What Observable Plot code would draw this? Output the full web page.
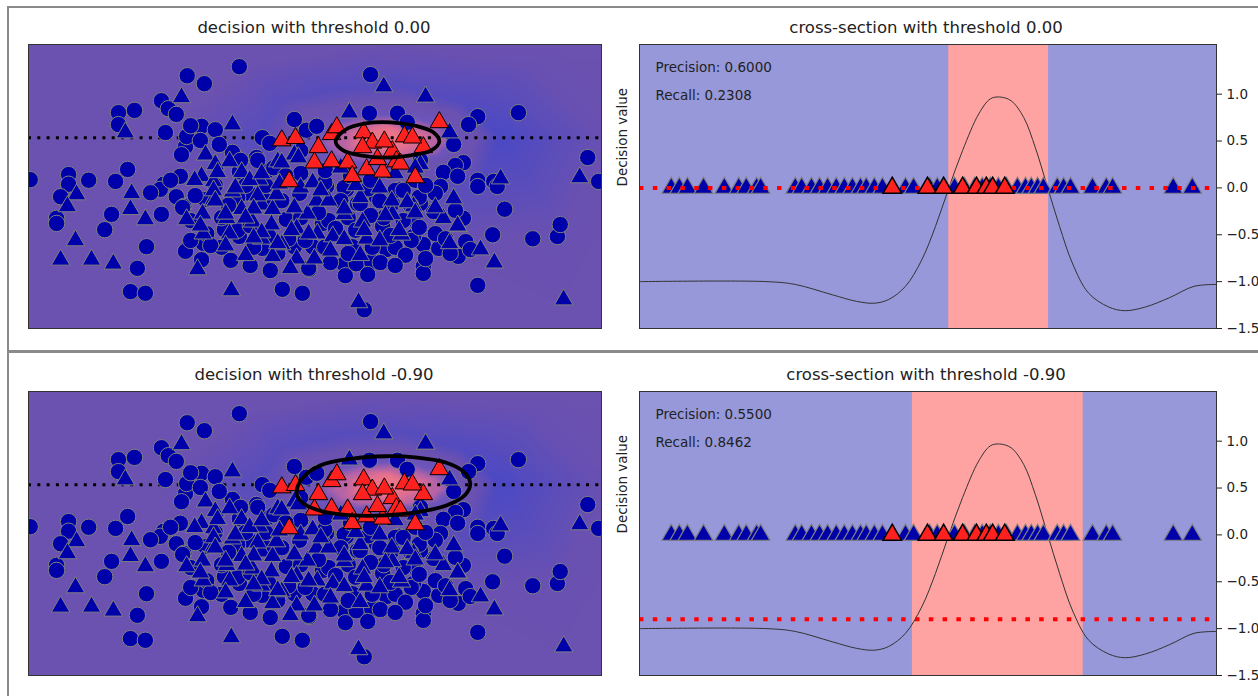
<!DOCTYPE html>
<html>
<head>
<meta charset="utf-8">
<script src="https://cdn.jsdelivr.net/npm/d3@7"></script>
<script src="https://cdn.jsdelivr.net/npm/@observablehq/plot@0.6"></script>
<style>
  body { margin: 0; background: #fff; width: 1258px; height: 696px; overflow: hidden; position: relative; font-family: "DejaVu Sans", sans-serif; }
  .line { position: absolute; background: #8a8a8a; }
  .title { position: absolute; font-size: 16.5px; color: #222; white-space: nowrap; transform: translate(-50%, -50%); }
  .panel { position: absolute; }
</style>
</head>
<body>
<script>
// ---- figure data -------------------------------------------------------
const thresholds = [0, -0.9];
const precisions = [0.6, 0.55];
const recalls = [0.2308, 0.8462];
const bandLo = [53.6, 47.3];   // cross-section: start of region above threshold
const bandHi = [70.9, 76.9];   // cross-section: end of region above threshold
const cutLine = 33.6;          // feature 1 value where the cross-section is taken

// class 0 samples (circles), feature 0 / feature 1
const circles = [
  [36.8,46.1],[27.7,44.5],[30.7,43.1],[59.7,44.7],[23.2,40.1],[24.4,38.7],[25.8,37.7],[15.7,38.0],[18.5,38.4],[15.7,35.9],
  [23.9,34.5],[30.2,35.6],[32.6,35.0],[27.4,32.0],[26.7,30.6],[27.6,33.8],[46.4,36.8],[48.5,34.9],[50.3,35.6],[59.5,37.9],
  [64.4,37.9],[66.1,36.3],[78.4,37.3],[76.8,35.9],[85.5,38.0],[74.2,32.4],[97.6,30.1],[99.5,25.9],[0.3,26.2],[7.0,27.1],
  [7.0,25.4],[10.5,26.1],[17.3,28.0],[15.2,25.9],[23.6,25.4],[26.5,26.8],[40.8,33.6],[35.6,31.0],[39.8,30.1],[33.3,32.4],
  [36.8,27.6],[41.5,27.6],[75.9,29.2],[74.5,28.7],[72.4,27.5],[74.9,26.8],[78.4,26.1],[81.2,25.9],
  [5.6,23.2],[4.9,19.4],[4.9,18.5],[14.5,20.1],[13.3,17.4],[20.6,14.4],[19.0,10.6],[17.8,6.5],[20.4,6.2],[23.2,20.1],
  [23.0,24.5],[25.8,23.2],[27.1,21.5],[27.4,13.6],[30.2,12.1],[30.5,15.0],[30.9,22.7],[21.3,23.9],
  [49.0,10.4],[44.3,6.9],[47.8,6.2],[55.1,11.3],[57.2,11.4],[59.9,11.8],[59.2,9.5],[58.6,3.3],[56.5,14.4],[62.5,13.9],
  [60.7,23.2],[63.5,22.0],[64.7,24.5],[57.4,22.0],[36.8,16.2],[40.8,14.1],[46.4,14.4],[49.6,14.4],[34.2,17.4],[52.0,25.0],
  [55.5,24.5],[38.6,23.8],[47.3,23.8],[61.8,18.0],[51.3,18.5],[45.0,19.2],
  [83.1,21.0],[81.0,16.5],[88.0,15.8],[92.3,16.2],[92.8,18.3],[78.4,7.6],[68.9,10.9],[68.9,9.7],[70.7,20.6],[68.4,22.0],
  [75.9,19.4],[68.9,14.8],[67.2,16.2],[71.6,14.1],[75.0,12.7],[76.3,15.3],[77.1,13.9],[73.6,13.2],[67.2,19.2],[71.9,25.0],
  [78.4,25.0],[81.8,25.0],
  [42.1,32.6],[40.0,29.6],[42.8,28.3],[47.5,27.3],[51.7,25.7],[55.1,24.8],[59.3,24.6],[61.3,22.5],[64.0,24.3],[65.4,24.3],
  [68.2,23.1],[71.0,23.8],[57.9,22.0],[55.8,19.5],[52.4,19.0],[47.5,19.5],[44.2,22.5],[36.5,23.1],[33.7,19.5],[36.5,17.3],
  [31.1,16.7],[28.3,15.5],[33.7,14.3],[39.3,14.3],[43.5,13.2],[51.7,14.3],[55.8,13.2],[60.0,14.3],[64.0,14.3],[66.8,15.5],
  [65.4,19.0],[62.0,19.5],[68.2,17.8],[71.0,16.7],[26.9,21.3],[24.8,26.1],[48.9,10.6],
  [47.5,31.3],[68.4,29.6],[37.9,25.2],[41.4,22.5],[54.5,22.5],[67.5,26.1],
  [32.6,25.2],[34.9,21.7],[38.7,18.1],[41.9,16.3],[45.4,15.8],[48.3,15.5],[50.6,20.4],[53.6,17.6],[57.1,17.3],[59.7,19.9],
  [63.2,16.4],[65.8,12.9],[69.3,12.3],[72.8,15.8],[74.5,20.8],[29.1,23.4],[28.3,19.0],[31.8,14.6],[35.3,12.0],[38.7,11.1],
  [42.2,10.2],[52.7,11.6],[55.3,9.3],[61.4,11.6],[64.0,11.1],[66.7,21.7],[69.3,25.2],[59.7,26.1],[56.2,26.9],[51.8,27.8],
  [44.9,26.9],[41.4,25.2],[37.0,29.6],[30.0,33.1],[28.3,35.7]
];

// class 1 samples predicted negative (blue triangles)
const blueTriangles = [
  [62.0,42.6],[69.3,40.8],[26.7,40.7],[16.9,34.5],[35.6,35.9],[56.0,38.0],[73.5,34.5],[82.4,26.4],[96.2,26.6],[8.4,23.6],
  [6.8,21.5],[8.2,15.5],[5.6,12.1],[11.0,12.1],[14.8,11.4],[29.5,10.4],[35.4,6.7],[57.6,4.6],[93.4,5.1],[81.3,11.6],
  [78.9,13.9],[74.2,22.9],[75.0,18.0],[73.5,15.0],[18.0,23.8],[17.8,21.0],[20.4,19.2],[27.6,19.2],[30.5,16.7],[32.3,22.7],
  [30.9,30.6],[30.2,26.8],[32.3,25.9],[32.6,28.9],[35.1,29.4],[37.2,27.5],[43.5,29.4],[46.4,30.6],[40.3,26.2],[68.4,28.9],
  [72.4,19.4],[74.9,18.1],[67.2,21.5],[37.2,21.0],[40.7,21.8],[42.6,21.0],[39.1,18.8],[34.6,19.4],[42.4,18.3],[46.8,17.6],
  [48.7,20.2],[50.4,16.7],[44.2,14.8],[40.7,15.8],[42.6,12.7],[46.8,12.3],[49.9,12.3],[55.1,20.1],[53.1,16.2],[55.1,15.7],
  [58.3,18.8],[59.0,15.8],[63.5,20.1],[65.1,16.5],[35.6,24.1],[43.3,23.6],[33.0,27.5],[29.0,26.1],[32.3,24.3],[36.1,24.8],
  [38.6,26.1],[40.7,27.3],[44.2,29.2],[47.1,30.1],[47.5,24.8],[43.8,25.5],[40.0,23.4],[32.6,22.5],[30.4,20.2],[34.4,20.2],
  [39.3,21.1],[46.4,21.3],[50.3,22.5],[52.4,22.5],[55.1,21.1],[57.9,23.1],[61.3,24.8],[63.4,22.5],[66.1,22.2],[67.5,20.4],
  [64.7,17.3],[71.0,21.3],[67.5,28.3],[64.0,27.3],[54.5,28.3],[49.6,25.7],[40.7,16.9],[45.9,17.3],[48.9,16.7],[58.6,17.3],
  [61.3,15.5],[43.5,15.0],[39.3,16.0],[35.1,16.7],[37.9,19.5],
  [34.4,14.6],[37.9,12.9],[45.7,10.6],[52.7,13.7],[57.9,12.9],[62.3,19.9],[57.1,25.2],[30.0,18.1],[51.0,24.3]
];

// class 1 samples (red triangles)
const redTriangles = [
  [44.2,33.1],[46.6,33.5],[50.6,31.9],[52.9,34.2],[53.8,35.4],[49.9,29.2],[52.9,29.4],[55.7,29.2],[56.5,26.8],[58.5,34.5],
  [59.0,28.0],[60.0,32.7],[58.3,31.9],[63.5,31.2],[65.6,33.8],[45.5,25.9],[61.8,27.6],[60.9,29.8],[64.2,29.4],[71.7,36.3],
  [68.9,31.9],[67.5,26.6],[67.0,33.6],[62.1,32.9],[64.9,29.0]
];

// decision-function level set at each threshold
const contour0 = [
  [53.6,32.9],[55.3,35.0],[58.8,36.1],[63.2,36.3],[67.5,35.7],[70.7,34.5],
  [71.7,32.9],[70.2,31.3],[66.7,30.5],[62.3,30.1],[57.9,30.5],[55.0,31.3]
];
const contour09 = [
  [46.8,32.0],[47.8,34.7],[51.0,37.0],[56.5,38.2],[62.3,38.6],[67.5,38.4],[72.8,37.5],[75.9,35.9],
  [77.1,33.8],[76.1,31.7],[72.8,29.9],[67.5,28.7],[62.3,28.2],[56.5,28.2],[51.3,28.9],[48.0,30.3]
];
const contours = [contour0, contour09];

// decision-function samples over the feature plane: [feature0, feature1, value]
const fieldPoints = [
  [0,50,-1],[30,50,-1],[63.2,50,-1],[92.8,50,-1],[100,50,-1],
  [0,33.6,-1],[22.0,33.6,-1],[100,33.6,-1.03],[0,13.7,-1],[100,13.7,-1],
  [0,0,-1],[30,0,-1],[64.9,0,-1],[92.8,0,-1],[100,0,-1],
  [38.7,46.3,-1],[63.2,48.1,-1.02],[87.6,46.3,-1.03],[30.0,26.1,-1.01],[35.3,15.5,-1],[64.1,13.7,-1],[92.8,17.3,-1.02],
  [39.8,33.6,-1.2],[44.0,40.1,-1.18],[54.5,42.3,-1.2],[64.9,42.8,-1.2],[75.4,40.1,-1.24],
  [82.5,33.6,-1.32],[78.9,26.1,-1.2],[64.1,22.5,-1.08],[47.5,24.3,-1.08],
  [58.6,33.5,0.75],[66.7,33.5,0.72],[62.8,35.2,0.72],[62.8,31.7,0.72],[62.8,33.1,0.97]
];
const fieldStops = [-1.35, -1.0, -0.5, 0, 0.5, 1];
const fieldColors = ["#4848c6", "#6b51b0", "#6c55bc", "#b664a6", "#e26f90", "#f27886"];

// decision function along the cross-section line
const curveX = [0, 22.1, 27.0, 33.4, 37.6, 40.7, 43.2, 46.1, 48.9, 51.3, 53.5, 56.0, 58.8, 60.8, 62.4, 64.4,
  66.6, 68.6, 70.7, 72.8, 75.0, 77.8, 81.3, 84.1, 87.7, 91.9, 96.1, 100];
const curveV = [-1.0, -1.0, -1.03, -1.14, -1.21, -1.23, -1.19, -1.05, -0.77, -0.41, -0.02, 0.40, 0.79, 0.95, 0.97, 0.93,
  0.75, 0.43, 0.01, -0.41, -0.80, -1.12, -1.27, -1.31, -1.27, -1.17, -1.05, -1.03];

// samples lying on the cross-section (feature 0)
const crossBlue = [5.5, 6.9, 8.3, 11.1, 14.7, 17.2, 18.5, 20.3, 21.0, 27.0, 28.1, 29.8, 31.2, 32.6, 34.1, 35.5, 36.9,
  38.3, 39.3, 40.7, 42.1, 46.1, 47.5, 50.3, 51.6, 54.6, 56.3, 58.1, 59.4, 60.8, 62.2, 63.6, 65.5, 66.9, 67.9, 69.0,
  70.0, 72.4, 73.5, 74.7, 78.5, 80.9, 82.0, 92.5, 95.8];
const crossRed = [43.8, 49.9, 52.7, 56.0, 58.4, 60.1, 61.2, 63.3];

const yDomain = [-1.5, 1.53];
const yTicks = [-1.5, -1.0, -0.5, 0.0, 0.5, 1.0];

// ---- drawing -----------------------------------------------------------
const field = fieldPoints.map(([x, y, v]) => ({x, y, v}))
  .concat(contour0.map(([x, y]) => ({x, y, v: thresholds[0]})))
  .concat(contour09.map(([x, y]) => ({x, y, v: thresholds[1]})));
const curve = curveX.map((x, k) => ({x, v: curveV[k]}));

const circleR = 8.2, triR = 6.9;

function leftPanel(i) {
  return Plot.plot({
    width: 590, height: 292,
    marginLeft: 8, marginRight: 9, marginTop: 4, marginBottom: 4,
    x: {domain: [0, 100], axis: null},
    y: {domain: [0, 50], axis: null},
    color: {type: "linear", domain: fieldStops, range: fieldColors, interpolate: "rgb", clamp: true},
    style: {background: "transparent"},
    marks: [
      Plot.raster(field, {x: "x", y: "y", fill: "v", interpolate: "barycentric", x1: 0, x2: 100, y1: 0, y2: 50}),
      Plot.ruleY([cutLine], {stroke: "#000", strokeWidth: 3, strokeDasharray: "3,6.3"}),
      Plot.dot(circles, {x: d => d[0], y: d => d[1], r: circleR, fill: "#0000aa", stroke: "#808080", strokeWidth: 1, clip: true}),
      Plot.dot(blueTriangles, {x: d => d[0], y: d => d[1], symbol: "triangle", r: triR, fill: "#0000aa", stroke: "#808080", strokeWidth: 1, clip: true}),
      Plot.dot(redTriangles, {x: d => d[0], y: d => d[1], symbol: "triangle", r: triR, fill: "#ff2020", stroke: "#000", strokeWidth: 1, clip: true}),
      Plot.line(contours[i], {x: d => d[0], y: d => d[1], curve: "catmull-rom-closed", stroke: "#000", strokeWidth: 3.8}),
      Plot.frame({stroke: "#333"})
    ]
  });
}

function rightPanel(i) {
  return Plot.plot({
    width: 658, height: 300,
    marginLeft: 39, marginRight: 42, marginTop: 4, marginBottom: 12,
    x: {domain: [0, 100], axis: null},
    y: {domain: yDomain, axis: "right", ticks: yTicks, tickFormat: ".1f", tickSize: 5, tickPadding: 5, label: null},
    style: {fontFamily: "DejaVu Sans", fontSize: "13.5px", color: "#222", background: "transparent"},
    marks: [
      Plot.frame({fill: "#9698da", stroke: "none"}),
      Plot.rect([i], {x1: j => bandLo[j], x2: j => bandHi[j], y1: () => yDomain[0], y2: () => yDomain[1], fill: "#ffa2a2"}),
      Plot.line(curve, {x: "x", y: "v", curve: "catmull-rom", stroke: "#333", strokeWidth: 1}),
      Plot.dot(crossBlue, {x: d => d, y: () => 0, symbol: "triangle", r: triR, fill: "#0000aa", stroke: "#808080", strokeWidth: 1.2}),
      Plot.ruleY([thresholds[i]], {stroke: "#ff0000", strokeWidth: 4, strokeDasharray: "4.5,9.3"}),
      Plot.dot(crossRed, {x: d => d, y: () => 0, symbol: "triangle", r: triR, fill: "#ff2020", stroke: "#000", strokeWidth: 1.5}),
      Plot.text([`Precision: ${precisions[i].toFixed(4)}`], {text: d => d, frameAnchor: "top-left", dx: 16, dy: 23, textAnchor: "start", lineAnchor: "middle", fontSize: 13.5, fill: "#222"}),
      Plot.text([`Recall: ${recalls[i].toFixed(4)}`], {text: d => d, frameAnchor: "top-left", dx: 16, dy: 51, textAnchor: "start", lineAnchor: "middle", fontSize: 13.5, fill: "#222"}),
      Plot.text(["Decision value"], {text: d => d, frameAnchor: "left", dx: -17, rotate: -90, fontSize: 13.5, fill: "#222"}),
      Plot.frame({stroke: "#333"})
    ]
  });
}

function place(node, left, top) {
  node.classList.add("panel");
  node.style.left = left + "px";
  node.style.top = top + "px";
  document.body.appendChild(node);
}

function addDiv(cls, css, text) {
  const d = document.createElement("div");
  d.className = cls;
  Object.assign(d.style, css);
  if (text) d.textContent = text;
  document.body.appendChild(d);
}

// notebook cell borders
addDiv("line", {left: "7px", top: "6px", width: "1251px", height: "2px"});
addDiv("line", {left: "7px", top: "6px", width: "2px", height: "690px"});
addDiv("line", {left: "7px", top: "350px", width: "1251px", height: "3px"});

const rowOffset = [0, 347];
thresholds.forEach((t, i) => {
  const dy = rowOffset[i];
  addDiv("title", {left: "314px", top: (27 + dy) + "px"}, `decision with threshold ${t.toFixed(2)}`);
  addDiv("title", {left: "926px", top: (27 + dy) + "px"}, `cross-section with threshold ${t.toFixed(2)}`);
  place(leftPanel(i), 20, 40 + dy);
  place(rightPanel(i), 600, 40 + dy);
});
</script>
</body>
</html>
